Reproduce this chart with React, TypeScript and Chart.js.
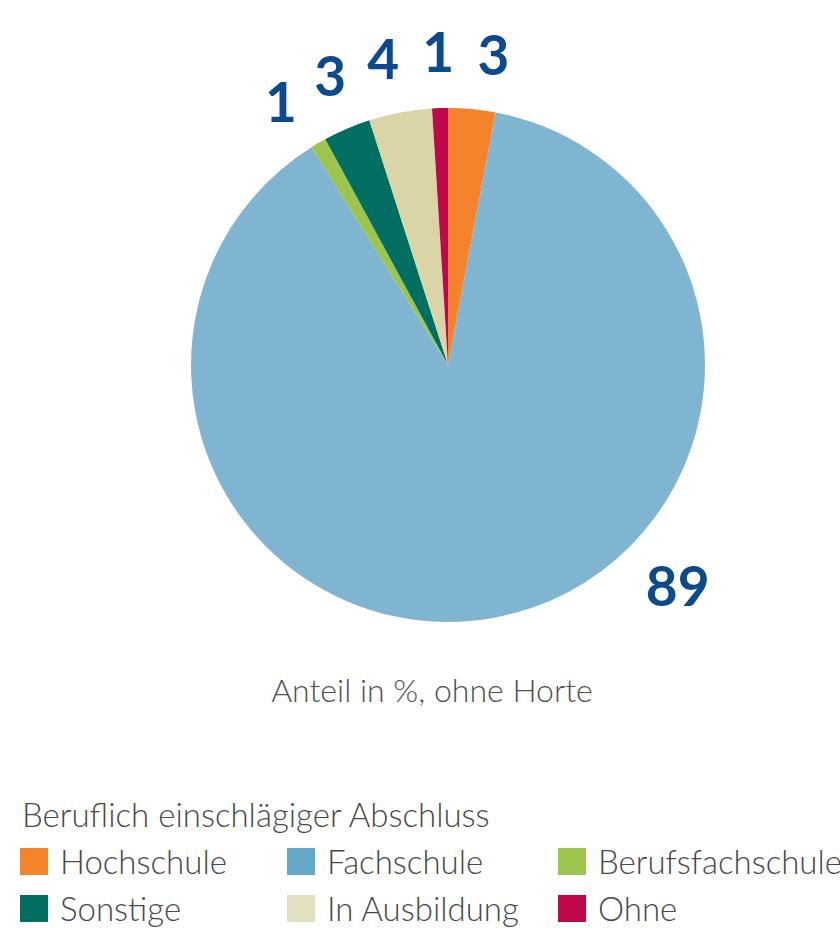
import React, { useEffect, useRef } from "react";
import { Chart, registerables } from "chart.js";

Chart.register(...registerables);

const categories = ["Hochschule", "Fachschule", "Berufsfachschule", "Sonstige", "In Ausbildung", "Ohne"];
const values = [3, 89, 1, 3, 4, 1];
const sliceColors = ["#f4832c", "#80b5d1", "#9dc44c", "#006f62", "#d9d5a7", "#c1074b"];
const legendColors = ["#f4832c", "#63a8c7", "#9dc44c", "#006f62", "#e2e0c1", "#c1074b"];
const legendTitle = "Beruflich einschlägiger Abschluss";
const caption = "Anteil in %, ohne Horte";

const LABEL_SIZE = 55;

const labelPlugin = {
  id: "sliceLabels",
  afterDatasetsDraw(chart: any) {
    const ctx = chart.ctx;
    const meta = chart.getDatasetMeta(0);
    ctx.save();
    ctx.fillStyle = "#0b4a8c";
    ctx.font = `bold ${LABEL_SIZE}px Lato`;
    ctx.textBaseline = "alphabetic";
    ctx.textAlign = "center";
    const items = meta.data.map((arc: any, i: number) => {
      const p = arc.getProps(["x", "y", "startAngle", "endAngle", "outerRadius"], true);
      const span = p.endAngle - p.startAngle;
      let ang = (p.startAngle + p.endAngle) / 2;
      if (span > Math.PI) ang = Math.PI / 4;
      while (ang > Math.PI) ang -= 2 * Math.PI;
      while (ang <= -Math.PI) ang += 2 * Math.PI;
      return { i, p, ang, big: span > Math.PI };
    });
    // spread small labels so neighbours do not collide
    const small = items.filter((d: any) => !d.big).sort((a: any, b: any) => a.ang - b.ang);
    const minSep = (10.3 * Math.PI) / 180;
    for (let it = 0; it < 200; it++) {
      for (let k = 0; k < small.length - 1; k++) {
        const gap = small[k + 1].ang - small[k].ang;
        if (gap < minSep) {
          const d = (minSep - gap) / 2;
          small[k].ang -= d;
          small[k + 1].ang += d;
        }
      }
    }
    const capH = LABEL_SIZE * 0.72;
    items.forEach((d: any) => {
      const { p, ang, i } = d;
      const txt = String(values[i]);
      const w = ctx.measureText(txt).width;
      const r = p.outerRadius + 36;
      const dx = Math.cos(ang);
      const dy = Math.sin(ang);
      const cx = p.x + dx * r + (dx * w) / 2;
      const cy = p.y + dy * r + (dy * capH) / 2;
      ctx.fillText(txt, cx, cy + capH / 2);
    });
    ctx.restore();
  },
};

export default function App() {
  const ref = useRef<HTMLCanvasElement | null>(null);
  useEffect(() => {
    if (!ref.current) return;
    const chart = new Chart(ref.current, {
      type: "pie",
      data: {
        labels: categories,
        datasets: [{ data: values, backgroundColor: sliceColors, borderWidth: 0 }],
      },
      options: {
        responsive: false,
        animation: false,
        layout: { padding: { left: 191, right: 135, top: 108, bottom: 38 } },
        plugins: { legend: { display: false }, tooltip: { enabled: false } },
      },
      plugins: [labelPlugin],
    });
    return () => chart.destroy();
  }, []);

  const rows = [categories.slice(0, 3), categories.slice(3, 6)];
  const colX = [20, 287, 558];
  const rowY = [847, 894];

  return (
    <div style={{ position: "absolute", left: 0, top: 0, width: 840, height: 931, background: "#fff", fontFamily: "Lato", fontWeight: 300, color: "#484848", overflow: "hidden" }}>
      <canvas ref={ref} width={840} height={660} style={{ position: "absolute", left: 0, top: 0 }} />
      <div style={{ position: "absolute", left: 0, width: 864, top: 670, textAlign: "center", fontSize: 32, lineHeight: "40px", color: "#505050" }}>{caption}</div>
      <div style={{ position: "absolute", left: 22, top: 794, fontSize: 33, lineHeight: "40px" }}>{legendTitle}</div>
      {rows.map((row, ri) =>
        row.map((name, ci) => {
          const idx = ri * 3 + ci;
          return (
            <div key={name} style={{ position: "absolute", left: colX[ci], top: rowY[ri], height: 28, display: "flex", alignItems: "center", whiteSpace: "nowrap" }}>
              <div style={{ width: 28, height: 27, background: legendColors[idx], marginRight: 12, flex: "none" }} />
              <span style={{ fontSize: 33, lineHeight: "28px" }}>{name}</span>
            </div>
          );
        })
      )}
    </div>
  );
}
